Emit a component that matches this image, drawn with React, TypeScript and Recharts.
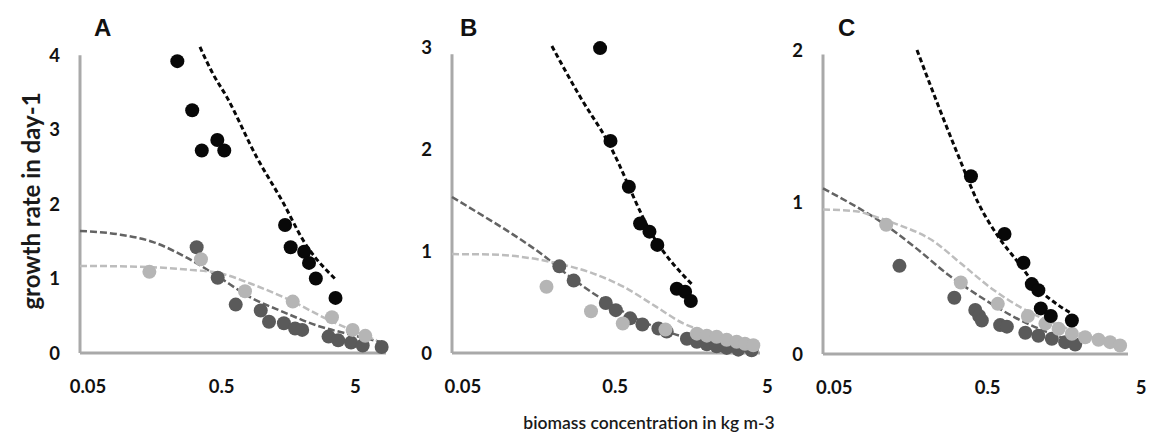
import React from 'react';
import { ComposedChart, Scatter, Line, XAxis, YAxis, ReferenceLine } from 'recharts';

// ---------- tick labels ----------
const X_TICKS = [0.05, 0.5, 5];
const A_Y_TICKS = [0, 1, 2, 3, 4];
const B_Y_TICKS = [0, 1, 2, 3];
const C_Y_TICKS = [0, 1, 2];
const PANEL_LETTERS = ['A', 'B', 'C'];
const X_TITLE = 'biomass concentration in kg m-3';
const Y_TITLE = 'growth rate in day-1';

// ---------- panel A: [biomass, growth rate] ----------
const A_BLACK = [[0.233, 3.92], [0.301, 3.26], [0.355, 2.72], [0.464, 2.86], [0.523, 2.72], [1.49, 1.72], [1.64, 1.42], [2.07, 1.36], [2.25, 1.21], [2.53, 1.0], [3.55, 0.74]];
const A_BLACK_FIT = [[0.344, 4.11], [0.43, 3.75], [0.545, 3.44], [0.914, 2.63], [1.45, 2.01], [2.04, 1.51], [3.55, 0.99]];
const A_DARK = [[0.325, 1.42], [0.467, 1.01], [0.637, 0.65], [0.98, 0.57], [1.13, 0.42], [1.46, 0.4], [1.77, 0.33], [2.0, 0.31], [3.15, 0.22], [3.72, 0.17], [4.64, 0.14], [5.67, 0.1], [7.86, 0.08]];
const A_DARK_FIT = [[0.0436, 1.64], [0.087, 1.59], [0.154, 1.49], [0.274, 1.28], [0.459, 1.04], [0.815, 0.75], [1.45, 0.55], [2.57, 0.37], [4.3, 0.26], [7.64, 0.15]];
const A_LIGHT = [[0.144, 1.09], [0.35, 1.26], [0.747, 0.83], [1.7, 0.69], [3.34, 0.48], [4.77, 0.31], [5.93, 0.23]];
const A_LIGHT_FIT = [[0.0436, 1.17], [0.116, 1.16], [0.274, 1.12], [0.486, 1.07], [0.914, 0.9], [1.62, 0.71], [2.88, 0.48], [5.1, 0.28], [7.2, 0.17]];

// ---------- panel B ----------
const B_BLACK = [[0.398, 2.99], [0.466, 2.08], [0.615, 1.63], [0.729, 1.27], [0.84, 1.19], [0.946, 1.06], [1.27, 0.63], [1.44, 0.6], [1.57, 0.51]];
const B_BLACK_FIT = [[0.192, 3.01], [0.295, 2.51], [0.441, 2.09], [0.892, 1.14], [1.63, 0.66]];
const B_DARK = [[0.215, 0.85], [0.267, 0.71], [0.434, 0.49], [0.505, 0.42], [0.627, 0.34], [0.755, 0.28], [0.962, 0.24], [1.09, 0.21], [1.48, 0.14], [1.72, 0.11], [2.0, 0.085], [2.32, 0.066], [2.7, 0.05], [3.22, 0.033], [3.94, 0.027]];
const B_DARK_FIT = [[0.0424, 1.53], [0.059, 1.4], [0.0975, 1.2], [0.161, 0.98], [0.267, 0.72], [0.441, 0.5], [0.729, 0.32], [1.2, 0.19], [2.0, 0.1], [4.25, 0.02]];
const B_LIGHT = [[0.177, 0.65], [0.347, 0.41], [0.561, 0.29], [1.07, 0.23], [1.72, 0.19], [2.0, 0.17], [2.32, 0.16], [2.7, 0.13], [3.14, 0.11], [3.56, 0.09], [4.04, 0.076]];
const B_LIGHT_FIT = [[0.0424, 0.97], [0.076, 0.966], [0.125, 0.94], [0.207, 0.88], [0.343, 0.79], [0.566, 0.65], [0.938, 0.45], [1.4, 0.29], [2.0, 0.21], [3.3, 0.14], [4.25, 0.11]];

// ---------- panel C ----------
const C_BLACK = [[0.389, 1.17], [0.644, 0.79], [0.856, 0.6], [0.97, 0.46], [1.07, 0.42], [1.11, 0.3], [1.29, 0.25], [1.77, 0.22]];
const C_BLACK_FIT = [[0.173, 2.0], [0.239, 1.63], [0.323, 1.3], [0.436, 0.99], [0.588, 0.77], [0.794, 0.6], [1.07, 0.43], [1.45, 0.32], [1.77, 0.265]];
const C_DARK = [[0.133, 0.58], [0.303, 0.37], [0.415, 0.29], [0.44, 0.25], [0.458, 0.22], [0.603, 0.19], [0.667, 0.18], [0.88, 0.14], [1.07, 0.12], [1.31, 0.1], [1.6, 0.078], [1.86, 0.063]];
const C_DARK_FIT = [[0.0422, 1.09], [0.059, 1.01], [0.097, 0.88], [0.169, 0.7], [0.278, 0.52], [0.458, 0.37], [0.755, 0.24], [1.25, 0.14], [2.06, 0.067]];
const C_LIGHT = [[0.109, 0.85], [0.334, 0.47], [0.582, 0.33], [0.914, 0.25], [1.19, 0.2], [1.45, 0.166], [1.77, 0.133], [2.16, 0.11], [2.64, 0.094], [3.14, 0.078], [3.65, 0.056]];
const C_LIGHT_FIT = [[0.0422, 0.95], [0.069, 0.94], [0.088, 0.91], [0.131, 0.85], [0.216, 0.75], [0.34, 0.59], [0.532, 0.43], [0.88, 0.29], [1.45, 0.19], [2.39, 0.11], [3.74, 0.067]];

const BLACK = '#080808';
const DARK = '#5a5a5a';
const LIGHT = '#b5b5b5';
const DARK_LINE = '#636363';
const LIGHT_LINE = '#bdbdbd';
const AXIS = '#a9a9a9';
const FONT = 'Lato, "Open Sans", sans-serif';

const toPts = (arr: number[][]) => arr.map(([x, y]) => ({ x, y }));
const dot = (color: string) => (p: any) =>
  p.cx == null ? <g /> : <circle cx={p.cx} cy={p.cy} r={7} fill={color} />;

const tickStyle = { fill: '#111', fontSize: 18.5, fontWeight: 700, fontFamily: FONT };

function Panel(props: any) {
  const { left, width, margin, yAxisWidth, xDomain, yDomain, yTicks, yTop, s } = props;
  return (
    <div style={{ position: 'absolute', left, top: 0 }}>
      <ComposedChart width={width} height={435} margin={margin}>
        <XAxis
          dataKey="x"
          type="number"
          scale="log"
          domain={xDomain}
          ticks={X_TICKS}
          interval={0}
          tickFormatter={(v: number) => String(v)}
          axisLine={{ stroke: AXIS, strokeWidth: 3 }}
          tickLine={false}
          tickSize={0}
          tickMargin={27}
          height={40}
          tick={tickStyle}
        />
        <YAxis
          dataKey="y"
          type="number"
          domain={yDomain}
          ticks={yTicks}
          interval={0}
          axisLine={false}
          tickLine={false}
          tickSize={0}
          tickMargin={20}
          width={yAxisWidth}
          tick={tickStyle}
        />
        <ReferenceLine
          segment={[{ x: xDomain[0], y: 0 }, { x: xDomain[0], y: yTop }]}
          stroke={AXIS}
          strokeWidth={3}
          ifOverflow="visible"
        />
        <Scatter data={toPts(s.dark)} fill={DARK} shape={dot(DARK)} isAnimationActive={false} />
        <Scatter data={toPts(s.light)} fill={LIGHT} shape={dot(LIGHT)} isAnimationActive={false} />
        <Line data={toPts(s.darkFit)} dataKey="y" type="monotone" stroke={DARK_LINE} strokeWidth={2.5} strokeDasharray="7 3" dot={false} activeDot={false} isAnimationActive={false} />
        <Line data={toPts(s.lightFit)} dataKey="y" type="monotone" stroke={LIGHT_LINE} strokeWidth={2.5} strokeDasharray="7 3" dot={false} activeDot={false} isAnimationActive={false} />
        <Scatter data={toPts(s.black)} fill={BLACK} shape={dot(BLACK)} isAnimationActive={false} />
        <Line data={toPts(s.blackFit)} dataKey="y" type="monotone" stroke={BLACK} strokeWidth={3} strokeDasharray="5 3" dot={false} activeDot={false} isAnimationActive={false} />
      </ComposedChart>
    </div>
  );
}

const letterStyle: React.CSSProperties = {
  position: 'absolute',
  top: 13,
  fontFamily: '"Liberation Sans", Arial, sans-serif',
  fontWeight: 700,
  fontSize: 24,
  color: '#111',
  lineHeight: '30px',
};

export default function App() {
  return (
    <div style={{ position: 'absolute', left: 0, top: 0, width: 1149, height: 435, background: '#fff', overflow: 'hidden' }}>
      <Panel
        left={0}
        width={400}
        margin={{ top: 44, right: 14, bottom: 42, left: 20 }}
        yAxisWidth={60}
        xDomain={[0.0436, 8.47]}
        yDomain={[0, 4.15]}
        yTicks={A_Y_TICKS}
        yTop={4}
        s={{ black: A_BLACK, blackFit: A_BLACK_FIT, dark: A_DARK, darkFit: A_DARK_FIT, light: A_LIGHT, lightFit: A_LIGHT_FIT }}
      />
      <Panel
        left={400}
        width={390}
        margin={{ top: 42, right: 30, bottom: 42, left: 12 }}
        yAxisWidth={40}
        xDomain={[0.0424, 4.47]}
        yDomain={[0, 3.05]}
        yTicks={B_Y_TICKS}
        yTop={2.93}
        s={{ black: B_BLACK, blackFit: B_BLACK_FIT, dark: B_DARK, darkFit: B_DARK_FIT, light: B_LIGHT, lightFit: B_LIGHT_FIT }}
      />
      <Panel
        left={780}
        width={369}
        margin={{ top: 47, right: 21, bottom: 41, left: 3 }}
        yAxisWidth={40}
        xDomain={[0.0422, 4.11]}
        yDomain={[0, 2.02]}
        yTicks={C_Y_TICKS}
        yTop={1.97}
        s={{ black: C_BLACK, blackFit: C_BLACK_FIT, dark: C_DARK, darkFit: C_DARK_FIT, light: C_LIGHT, lightFit: C_LIGHT_FIT }}
      />
      <div style={{ ...letterStyle, left: 94 }}>{PANEL_LETTERS[0]}</div>
      <div style={{ ...letterStyle, left: 460 }}>{PANEL_LETTERS[1]}</div>
      <div style={{ ...letterStyle, left: 838 }}>{PANEL_LETTERS[2]}</div>
      <div
        style={{
          position: 'absolute',
          left: 30,
          top: 201,
          transform: 'translate(-50%, -50%) rotate(-90deg)',
          whiteSpace: 'nowrap',
          fontFamily: FONT,
          fontWeight: 700,
          fontSize: 24,
          color: '#1a1a1a',
        }}
      >
        {Y_TITLE}
      </div>
      <div
        style={{
          position: 'absolute',
          left: 649,
          top: 422,
          transform: 'translate(-50%, -50%)',
          whiteSpace: 'nowrap',
          fontFamily: FONT,
          fontWeight: 600,
          fontSize: 17.5,
          color: '#1a1a1a',
        }}
      >
        {X_TITLE}
      </div>
    </div>
  );
}
